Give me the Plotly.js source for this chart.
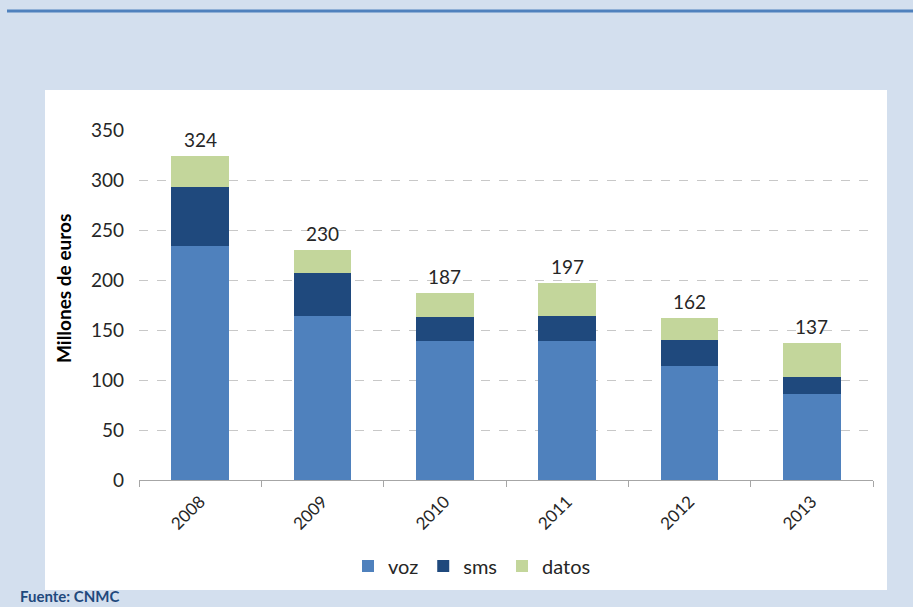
<!DOCTYPE html>
<html>
<head>
<meta charset="utf-8">
<script src="https://cdn.plot.ly/plotly-3.0.1.min.js"></script>
<style>html,body{margin:0;padding:0;background:#D3DFEE;}#chart{width:913px;height:607px;}</style>
</head>
<body>
<div id="chart"></div>
<script>
const years = ['2008','2009','2010','2011','2012','2013'];
const voz = [234, 164, 139, 139, 114, 86];
const sms = [59, 43, 24, 25, 26, 17];
const datos = [31, 23, 24, 33, 22, 34];
const totals = years.map((_, i) => voz[i] + sms[i] + datos[i]);

const FONT = 'Lato, "Open Sans", sans-serif';
const L = 139, R = 873, T = 130, B = 480, W = 913, H = 607;
const px = x => (x - L) / (R - L);
const py = y => (B - y) / (B - T);

const traces = [
  {type: 'bar', name: 'voz', x: years, y: voz, marker: {color: '#4F81BD'}},
  {type: 'bar', name: 'sms', x: years, y: sms, marker: {color: '#1F497D'}},
  {type: 'bar', name: 'datos', x: years, y: datos, marker: {color: '#C3D69B'}}
];

const totalLabels = years.map((yr, i) => ({
  x: i, y: totals[i], xref: 'x', yref: 'y', text: String(totals[i]),
  showarrow: false, yanchor: 'bottom', yshift: 3,
  font: {family: FONT, size: 19, color: '#262626'}
}));

const layout = {
  width: W, height: H,
  paper_bgcolor: '#D3DFEE', plot_bgcolor: '#FFFFFF',
  margin: {l: L, r: W - R, t: T, b: H - B},
  barmode: 'stack', bargap: 0.53,
  font: {family: FONT, color: '#262626'},
  xaxis: {
    type: 'category', categoryarray: years, range: [-0.5, years.length - 0.5],
    showline: true, linecolor: '#A6A6A6', linewidth: 1,
    ticks: 'outside', tickson: 'boundaries', ticklen: 6, tickcolor: '#A6A6A6',
    tickangle: -45, tickfont: {family: FONT, size: 17, color: '#262626'},
    ticklabelstandoff: 4, showgrid: false, fixedrange: true
  },
  yaxis: {
    range: [0, 350], dtick: 50, showline: false, zeroline: false,
    showgrid: true, gridcolor: '#C8C8C8', griddash: 'dash', gridwidth: 1,
    tickfont: {family: FONT, size: 19, color: '#262626'}, ticklabelstandoff: 14,
    fixedrange: true
  },
  legend: {
    orientation: 'h', x: px(472), xanchor: 'center', y: py(566), yanchor: 'middle',
    font: {family: FONT, size: 20, color: '#262626'}, bgcolor: 'rgba(0,0,0,0)',
    itemwidth: 30, traceorder: 'normal'
  },
  shapes: [
    {type: 'rect', xref: 'paper', yref: 'paper', x0: px(45), x1: px(887), y0: py(590), y1: py(90),
     fillcolor: '#FFFFFF', line: {width: 0}, layer: 'below'},
    {type: 'line', xref: 'paper', yref: 'paper', x0: px(7), x1: px(913), y0: py(11), y1: py(11),
     line: {color: '#4F81BD', width: 3}}
  ],
  annotations: totalLabels.concat([
    {xref: 'paper', yref: 'paper', x: px(63), y: py(289), text: '<b>Millones de euros</b>',
     textangle: -90, showarrow: false, font: {family: FONT, size: 19, color: '#000000'},
     xanchor: 'center', yanchor: 'middle'},
    {xref: 'paper', yref: 'paper', x: px(19), y: py(606), text: '<b>Fuente: CNMC</b>',
     showarrow: false, font: {family: FONT, size: 15, color: '#1F497D'},
     xanchor: 'left', yanchor: 'bottom', borderpad: 0}
  ])
};

Plotly.newPlot('chart', traces, layout, {displayModeBar: false, staticPlot: true});
</script>
</body>
</html>
